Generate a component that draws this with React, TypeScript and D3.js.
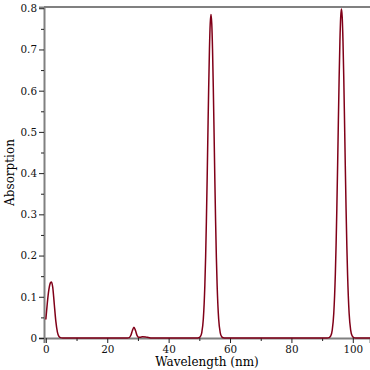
import { useRef, useEffect } from 'react'
import * as d3 from 'd3'

// spectrum (nm, absorption)
const wavelength = [
  0, 0.25, 0.5, 0.75, 1.0, 1.25, 1.5, 1.85, 2.25, 2.75, 3.25, 3.75, 4.25, 4.75, 5.5,
  10, 20, 26.5, 27.2, 27.7, 28.2, 28.7, 29.2, 29.7, 30.2, 30.7, 31.5, 32.5, 33.5, 34.5,
  40, 49.2, 49.8, 50.3, 50.8, 51.3, 51.8, 52.05, 52.3, 52.55, 52.8, 53.05, 53.3, 53.55, 53.8,
  54.05, 54.3, 54.55, 54.8, 55.05, 55.3, 55.55, 55.8, 56.3, 56.8, 57.3, 57.8, 58.5,
  70, 80, 91.6, 92.3, 92.8, 93.3, 93.8, 94.3, 94.55, 94.8, 95.05, 95.3, 95.55, 95.8, 96.05, 96.3,
  96.55, 96.8, 97.05, 97.3, 97.55, 97.8, 98.05, 98.3, 98.8, 99.3, 99.8, 100.3, 101, 110,
]
const absorption = [
  0.045, 0.066, 0.086, 0.104, 0.118, 0.128, 0.134, 0.136, 0.123, 0.082, 0.041, 0.015, 0.004, 0.001, 0,
  0, 0, 0, 0.001, 0.0065, 0.018, 0.026, 0.018, 0.0065, 0.002, 0.002, 0.003, 0.0025, 0.001, 0,
  0, 0, 0.0005, 0.003, 0.0133, 0.046, 0.128, 0.196, 0.283, 0.386, 0.499, 0.608, 0.701, 0.763, 0.785,
  0.763, 0.701, 0.608, 0.499, 0.386, 0.283, 0.196, 0.128, 0.046, 0.0133, 0.003, 0.0005, 0,
  0, 0, 0, 0.001, 0.005, 0.019, 0.06, 0.153, 0.225, 0.315, 0.418, 0.528, 0.633, 0.72, 0.778, 0.798,
  0.778, 0.72, 0.633, 0.528, 0.418, 0.315, 0.225, 0.153, 0.06, 0.019, 0.005, 0.001, 0, 0,
]

const xTicks = [0, 20, 40, 60, 80, 100]
const xMinor = [10, 30, 50, 70, 90]
const yTicks = [0, 0.1, 0.2, 0.3, 0.4, 0.5, 0.6, 0.7, 0.8]
const yMinor = [0.05, 0.15, 0.25, 0.35, 0.45, 0.55, 0.65, 0.75]

export default function App() {
  const svgRef = useRef<SVGSVGElement>(null)

  useEffect(() => {
    const w = 370
    const left = 44
    const top = 7
    const bottom = 338
    const svg = d3.select(svgRef.current)
    svg.selectAll('*').remove()

    const x = d3.scaleLinear().domain([-0.6, 105.6]).range([left, w])
    const y = d3.scaleLinear().domain([0, 0.803]).range([bottom, top])

    svg.append('clipPath').attr('id', 'plot')
      .append('rect')
      .attr('x', left).attr('y', top - 2)
      .attr('width', w - left).attr('height', bottom - top + 4)

    const pts = wavelength.map((d, i) => [d, absorption[i]] as [number, number])
    const line = d3.line()
      .x(d => x(d[0]))
      .y(d => y(d[1]))
      .curve(d3.curveMonotoneX)

    // axes
    const font = '"DejaVu Serif", serif'
    const xAxis = svg.append('g')
      .attr('transform', `translate(0, ${bottom})`)
      .call(d3.axisBottom(x).tickValues(xTicks).tickSize(5).tickPadding(3).tickFormat(d => String(d)))
    xAxis.append('g')
      .call(d3.axisBottom(x).tickValues(xMinor).tickSize(3).tickFormat(() => ''))
      .select('.domain').remove()

    const yAxis = svg.append('g')
      .attr('transform', `translate(${left}, 0)`)
      .call(d3.axisLeft(y).tickValues(yTicks).tickSize(5).tickPadding(2).tickFormat(d => String(d)))
    yAxis.append('g')
      .call(d3.axisLeft(y).tickValues(yMinor).tickSize(3).tickFormat(() => ''))
      .select('.domain').remove()

    svg.selectAll('.domain').attr('stroke', '#808080').attr('stroke-width', 2)
    svg.selectAll('.tick line').attr('stroke', '#222')
    svg.selectAll('.tick text').attr('font-family', font).attr('font-size', 10.4).attr('fill', '#111')

    svg.append('line')
      .attr('x1', left).attr('x2', w)
      .attr('y1', top).attr('y2', top)
      .attr('stroke', '#808080').attr('stroke-width', 2)

    svg.append('path')
      .datum(pts)
      .attr('clip-path', 'url(#plot)')
      .attr('d', line)
      .attr('fill', 'none')
      .attr('stroke', '#800018')
      .attr('stroke-width', 1.5)

    svg.append('text')
      .attr('x', (left + w) / 2).attr('y', 366)
      .attr('text-anchor', 'middle')
      .attr('font-family', font).attr('font-size', 12)
      .text('Wavelength (nm)')

    svg.append('text')
      .attr('transform', `translate(14, ${(top + bottom) / 2}) rotate(-90)`)
      .attr('text-anchor', 'middle')
      .attr('font-family', font).attr('font-size', 12)
      .text('Absorption')
  }, [])

  return (
    <svg ref={svgRef} width={370} height={370}
      style={{ position: 'absolute', left: 0, top: 0, background: '#fff' }}></svg>
  )
}
